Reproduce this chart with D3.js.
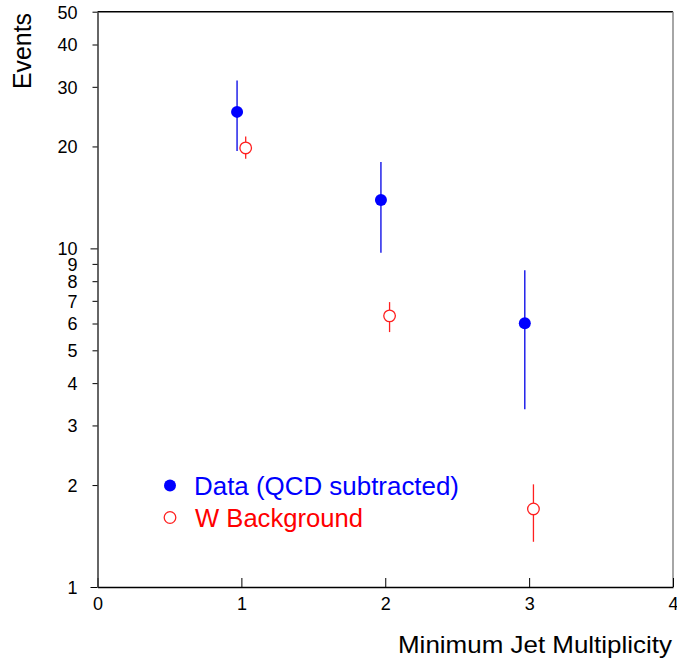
<!DOCTYPE html>
<html><head><meta charset="utf-8">
<script src="https://cdn.jsdelivr.net/npm/d3@7"></script>
<style>body{margin:0;background:#fff}svg{display:block;font-family:"Liberation Sans",Arial,sans-serif}</style>
</head><body><svg id="c" width="677" height="662"></svg>
<script>
const categories = [1, 2, 3];
const dataValues = [25.3, 13.9, 6.01];
const dataErrLow = [19.4, 9.71, 3.35];
const dataErrHigh = [31.3, 18.0, 8.62];
const wValues = [19.8, 6.32, 1.70];
const wErrLow = [18.4, 5.66, 1.36];
const wErrHigh = [21.4, 6.94, 2.01];
const xTicks = [0, 1, 2, 3, 4];
const yTicks = [1, 2, 3, 4, 5, 6, 7, 8, 9, 10, 20, 30, 40, 50];

const svg = d3.select("#c");
const L = 97.5, R = 673, T = 11.7, B = 587;
const x = d3.scaleLinear().domain([0, 4]).range([L, R]);
const y = d3.scaleLog().domain([1, 50]).range([B, T]);

// frame
svg.append("line").attr("x1", L).attr("x2", R).attr("y1", T).attr("y2", T).attr("stroke", "#000").attr("stroke-width", 1.5);
svg.append("line").attr("x1", R).attr("x2", R).attr("y1", T).attr("y2", B).attr("stroke", "#888").attr("stroke-width", 1.5);

// x axis
const xa = svg.append("g").attr("transform", `translate(0,${B})`)
  .call(d3.axisBottom(x).tickValues(xTicks).tickFormat(d3.format("d")).tickSizeInner(-9).tickSizeOuter(0));
xa.select(".domain").attr("stroke", "#000").attr("stroke-width", 1.5);
xa.selectAll("text").attr("font-size", 18).attr("fill", "#000").attr("y", 23).attr("dy", 0);

// y axis
const ya = svg.append("g").attr("transform", `translate(${L},0)`)
  .call(d3.axisLeft(y).tickValues(yTicks).tickFormat(d3.format("d")).tickSizeOuter(0));
ya.select(".domain").attr("stroke", "#333").attr("stroke-width", 1.5);
ya.selectAll(".tick line").attr("x2", d => (d === 1 || d === 10) ? -7 : -5);
ya.selectAll("text").attr("font-size", 18).attr("fill", "#000").attr("x", -20).attr("dy", "0.35em");

// labels
svg.append("text").attr("transform", "translate(31,51) rotate(-90)").attr("text-anchor", "middle")
  .attr("font-size", 26).attr("textLength", 76).attr("lengthAdjust", "spacingAndGlyphs").text("Events");
svg.append("text").attr("x", 672).attr("y", 653).attr("text-anchor", "end").attr("font-size", 24)
  .attr("textLength", 274).attr("lengthAdjust", "spacingAndGlyphs").text("Minimum Jet Multiplicity");

// data series
const dOff = -0.03, wOff = 0.03;
categories.forEach((c, i) => {
  svg.append("line").attr("x1", x(c + dOff)).attr("x2", x(c + dOff))
    .attr("y1", y(dataErrLow[i])).attr("y2", y(dataErrHigh[i])).attr("stroke", "#0000e6").attr("stroke-width", 1.3);
  svg.append("line").attr("x1", x(c + wOff)).attr("x2", x(c + wOff))
    .attr("y1", y(wErrLow[i])).attr("y2", y(wErrHigh[i])).attr("stroke", "#ff2020").attr("stroke-width", 1.3);
});
svg.selectAll(".dpt").data(categories).enter().append("circle")
  .attr("cx", (c) => x(c + dOff)).attr("cy", (c, i) => y(dataValues[i])).attr("r", 6).attr("fill", "#0000ff");
svg.selectAll(".wpt").data(categories).enter().append("circle")
  .attr("cx", (c) => x(c + wOff)).attr("cy", (c, i) => y(wValues[i])).attr("r", 5.8)
  .attr("fill", "#fff").attr("stroke", "#ff2020").attr("stroke-width", 1.3);

// legend
svg.append("circle").attr("cx", 170).attr("cy", 485.5).attr("r", 6).attr("fill", "#0000ff");
svg.append("text").attr("x", 194).attr("y", 495).attr("font-size", 25).attr("fill", "#0000ff")
  .attr("textLength", 265).attr("lengthAdjust", "spacingAndGlyphs").text("Data (QCD subtracted)");
svg.append("circle").attr("cx", 170).attr("cy", 517.5).attr("r", 5.8).attr("fill", "#fff").attr("stroke", "#ff2020").attr("stroke-width", 1.3);
svg.append("text").attr("x", 195).attr("y", 527).attr("font-size", 25).attr("fill", "#ff0000")
  .attr("textLength", 168).attr("lengthAdjust", "spacingAndGlyphs").text("W Background");
</script></body></html>
